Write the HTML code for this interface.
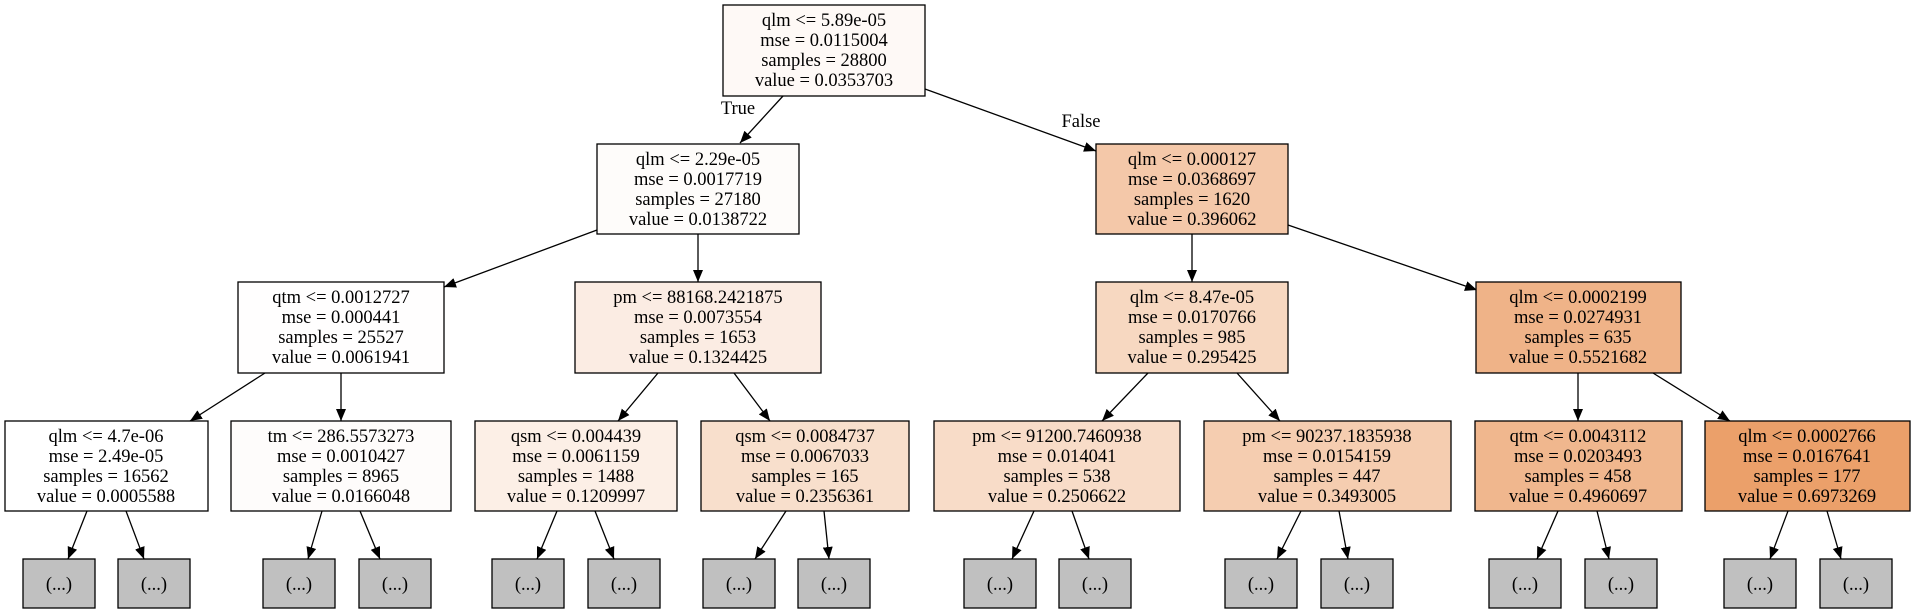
<!DOCTYPE html>
<html><head><meta charset="utf-8"><style>
html,body{margin:0;padding:0;background:#fff;}
svg{display:block;}
text{font-family:"Liberation Serif",serif;font-size:18.5px;fill:#000;text-anchor:middle;}
rect{stroke:#000;stroke-width:1.3;}
line{stroke:#000;stroke-width:1.3;}
</style></head><body>
<svg width="1915" height="613" viewBox="0 0 1915 613" xmlns="http://www.w3.org/2000/svg">
<defs><marker id="a" markerWidth="12" markerHeight="10" refX="12" refY="5" orient="auto" markerUnits="userSpaceOnUse"><path d="M0,0 L12,5 L0,10 z" fill="#000"/></marker></defs>

<g marker-end="url(#a)">
<line x1="783" y1="96" x2="740" y2="143"/>
<line x1="925" y1="89" x2="1096" y2="151"/>
<line x1="597" y1="230" x2="444" y2="287"/>
<line x1="698" y1="234" x2="698" y2="282"/>
<line x1="1192" y1="234" x2="1192" y2="282"/>
<line x1="1288" y1="225" x2="1477" y2="290"/>
<line x1="265" y1="373" x2="190" y2="421"/>
<line x1="341" y1="373" x2="341" y2="421"/>
<line x1="658" y1="373" x2="618" y2="421"/>
<line x1="734" y1="373" x2="770" y2="421"/>
<line x1="1148" y1="373" x2="1102" y2="421"/>
<line x1="1237" y1="373" x2="1280" y2="421"/>
<line x1="1578" y1="373" x2="1578" y2="421"/>
<line x1="1653" y1="373" x2="1730" y2="421"/>

<line x1="87" y1="511" x2="68" y2="559"/>
<line x1="126" y1="511" x2="144" y2="559"/>
<line x1="322" y1="511" x2="308" y2="559"/>
<line x1="360" y1="511" x2="380" y2="559"/>
<line x1="557" y1="511" x2="537" y2="559"/>
<line x1="595" y1="511" x2="614" y2="559"/>
<line x1="786" y1="511" x2="755" y2="559"/>
<line x1="824" y1="511" x2="829" y2="559"/>
<line x1="1034" y1="511" x2="1012" y2="559"/>
<line x1="1072" y1="511" x2="1089" y2="559"/>
<line x1="1301" y1="511" x2="1277" y2="559"/>
<line x1="1339" y1="511" x2="1348" y2="559"/>
<line x1="1558" y1="511" x2="1537" y2="559"/>
<line x1="1597" y1="511" x2="1609" y2="559"/>
<line x1="1788" y1="511" x2="1770" y2="559"/>
<line x1="1827" y1="511" x2="1841" y2="559"/>
</g>
<text x="738" y="114">True</text>
<text x="1081" y="127">False</text>

<rect x="723" y="5" width="202" height="91" fill="#fef9f6"/>
<text x="824" y="26">qlm &lt;= 5.89e-05</text><text x="824" y="46">mse = 0.0115004</text><text x="824" y="66">samples = 28800</text><text x="824" y="86">value = 0.0353703</text>

<rect x="597" y="144" width="202" height="90" fill="#fefcfa"/>
<text x="698" y="165">qlm &lt;= 2.29e-05</text><text x="698" y="185">mse = 0.0017719</text><text x="698" y="205">samples = 27180</text><text x="698" y="225">value = 0.0138722</text>
<rect x="1096" y="144" width="192" height="90" fill="#f4c8a9"/>
<text x="1192" y="165">qlm &lt;= 0.000127</text><text x="1192" y="185">mse = 0.0368697</text><text x="1192" y="205">samples = 1620</text><text x="1192" y="225">value = 0.396062</text>

<rect x="238" y="282" width="206" height="91" fill="#fffefe"/>
<text x="341" y="303">qtm &lt;= 0.0012727</text><text x="341" y="323">mse = 0.000441</text><text x="341" y="343">samples = 25527</text><text x="341" y="363">value = 0.0061941</text>
<rect x="575" y="282" width="246" height="91" fill="#fbece3"/>
<text x="698" y="303">pm &lt;= 88168.2421875</text><text x="698" y="323">mse = 0.0073554</text><text x="698" y="343">samples = 1653</text><text x="698" y="363">value = 0.1324425</text>
<rect x="1096" y="282" width="192" height="91" fill="#f7d8c1"/>
<text x="1192" y="303">qlm &lt;= 8.47e-05</text><text x="1192" y="323">mse = 0.0170766</text><text x="1192" y="343">samples = 985</text><text x="1192" y="363">value = 0.295425</text>
<rect x="1476" y="282" width="205" height="91" fill="#efb388"/>
<text x="1578" y="303">qlm &lt;= 0.0002199</text><text x="1578" y="323">mse = 0.0274931</text><text x="1578" y="343">samples = 635</text><text x="1578" y="363">value = 0.5521682</text>

<rect x="5" y="421" width="203" height="90" fill="#ffffff"/>
<text x="106" y="442">qlm &lt;= 4.7e-06</text><text x="106" y="462">mse = 2.49e-05</text><text x="106" y="482">samples = 16562</text><text x="106" y="502">value = 0.0005588</text>
<rect x="231" y="421" width="220" height="90" fill="#fefcfb"/>
<text x="341" y="442">tm &lt;= 286.5573273</text><text x="341" y="462">mse = 0.0010427</text><text x="341" y="482">samples = 8965</text><text x="341" y="502">value = 0.0166048</text>
<rect x="475" y="421" width="202" height="90" fill="#fcefe6"/>
<text x="576" y="442">qsm &lt;= 0.004439</text><text x="576" y="462">mse = 0.0061159</text><text x="576" y="482">samples = 1488</text><text x="576" y="502">value = 0.1209997</text>
<rect x="701" y="421" width="208" height="90" fill="#f8dfcc"/>
<text x="805" y="442">qsm &lt;= 0.0084737</text><text x="805" y="462">mse = 0.0067033</text><text x="805" y="482">samples = 165</text><text x="805" y="502">value = 0.2356361</text>
<rect x="934" y="421" width="246" height="90" fill="#f8dcc8"/>
<text x="1057" y="442">pm &lt;= 91200.7460938</text><text x="1057" y="462">mse = 0.014041</text><text x="1057" y="482">samples = 538</text><text x="1057" y="502">value = 0.2506622</text>
<rect x="1204" y="421" width="247" height="90" fill="#f5cdb0"/>
<text x="1327" y="442">pm &lt;= 90237.1835938</text><text x="1327" y="462">mse = 0.0154159</text><text x="1327" y="482">samples = 447</text><text x="1327" y="502">value = 0.3493005</text>
<rect x="1475" y="421" width="207" height="90" fill="#f0b78e"/>
<text x="1578" y="442">qtm &lt;= 0.0043112</text><text x="1578" y="462">mse = 0.0203493</text><text x="1578" y="482">samples = 458</text><text x="1578" y="502">value = 0.4960697</text>
<rect x="1705" y="421" width="205" height="90" fill="#eba06a"/>
<text x="1807" y="442">qlm &lt;= 0.0002766</text><text x="1807" y="462">mse = 0.0167641</text><text x="1807" y="482">samples = 177</text><text x="1807" y="502">value = 0.6973269</text>

<g fill="#c0c0c0">
<rect x="23" y="559" width="72" height="49"/><rect x="118" y="559" width="72" height="49"/>
<rect x="263" y="559" width="72" height="49"/><rect x="359" y="559" width="72" height="49"/>
<rect x="492" y="559" width="72" height="49"/><rect x="588" y="559" width="72" height="49"/>
<rect x="703" y="559" width="72" height="49"/><rect x="798" y="559" width="72" height="49"/>
<rect x="964" y="559" width="72" height="49"/><rect x="1059" y="559" width="72" height="49"/>
<rect x="1225" y="559" width="72" height="49"/><rect x="1321" y="559" width="72" height="49"/>
<rect x="1489" y="559" width="72" height="49"/><rect x="1585" y="559" width="72" height="49"/>
<rect x="1724" y="559" width="72" height="49"/><rect x="1820" y="559" width="72" height="49"/>
</g>
<g>
<text x="59" y="590">(...)</text><text x="154" y="590">(...)</text>
<text x="299" y="590">(...)</text><text x="395" y="590">(...)</text>
<text x="528" y="590">(...)</text><text x="624" y="590">(...)</text>
<text x="739" y="590">(...)</text><text x="834" y="590">(...)</text>
<text x="1000" y="590">(...)</text><text x="1095" y="590">(...)</text>
<text x="1261" y="590">(...)</text><text x="1357" y="590">(...)</text>
<text x="1525" y="590">(...)</text><text x="1621" y="590">(...)</text>
<text x="1760" y="590">(...)</text><text x="1856" y="590">(...)</text>
</g>
</svg>
</body></html>
